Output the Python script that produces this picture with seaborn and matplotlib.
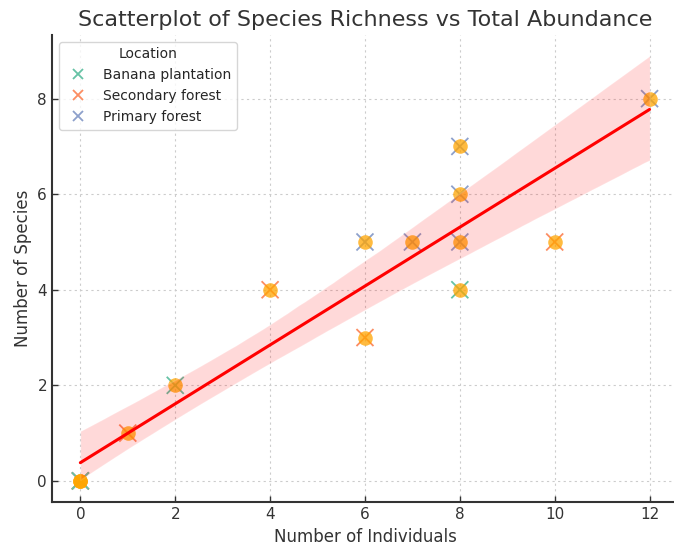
import matplotlib
matplotlib.use("Agg")
import matplotlib.pyplot as plt
import seaborn as sns
import pandas as pd

individuals = [0, 0, 0, 1, 2, 4, 6, 6, 7, 8, 8, 8, 8, 10, 12]
species = [0, 0, 0, 1, 2, 4, 3, 5, 5, 4, 5, 6, 7, 5, 8]
location = ["Primary forest", "Secondary forest", "Banana plantation",
            "Secondary forest", "Banana plantation", "Secondary forest",
            "Secondary forest", "Primary forest", "Primary forest",
            "Banana plantation", "Primary forest", "Primary forest",
            "Primary forest", "Secondary forest", "Primary forest"]
hue_order = ["Banana plantation", "Secondary forest", "Primary forest"]

df = pd.DataFrame({"Number of Individuals": individuals,
                   "Number of Species": species,
                   "Location": location})

sns.set_style("whitegrid")
plt.rcParams["font.family"] = ["DejaVu Sans"]

fig = plt.figure(figsize=(6.74, 5.44), dpi=100)
ax = fig.add_axes([0.077, 0.077, 0.929, 0.859])

sns.scatterplot(data=df, x="Number of Individuals", y="Number of Species",
                hue="Location", hue_order=hue_order, palette="Set2",
                marker="x", s=150, linewidth=1.3, ax=ax)
sns.regplot(data=df, x="Number of Individuals", y="Number of Species",
            n_boot=10000, seed=3,
            scatter_kws={"s": 110, "color": "orange", "alpha": 0.75, "linewidths": 0},
            line_kws={"color": "red", "linewidth": 2.2}, ax=ax)

ax.set_xlim(-0.6, 12.6)
ax.set_xticks([0, 2, 4, 6, 8, 10, 12])
ax.set_yticks([0, 2, 4, 6, 8])
ax.grid(True, linestyle=(0, (2, 3)), color="#cccccc", linewidth=0.8)
for s in ["top", "right"]:
    ax.spines[s].set_visible(False)
for s in ["left", "bottom"]:
    ax.spines[s].set_color("#333333")
    ax.spines[s].set_linewidth(1.5)
ax.tick_params(direction="in", length=4, width=1, colors="#333333", labelsize=11,
               left=True, bottom=True)
ax.set_xlabel("Number of Individuals", fontsize=12, color="#333333")
ax.set_ylabel("Number of Species", fontsize=12, color="#333333")
ax.set_title("Scatterplot of Species Richness vs Total Abundance", fontsize=16,
             color="#333333", pad=6)

leg = ax.legend(title="Location", loc="upper left", fontsize=10, title_fontsize=10,
                frameon=True, markerscale=0.6)
leg.get_frame().set_edgecolor("#cccccc")

fig.savefig("out.png", dpi=100)
